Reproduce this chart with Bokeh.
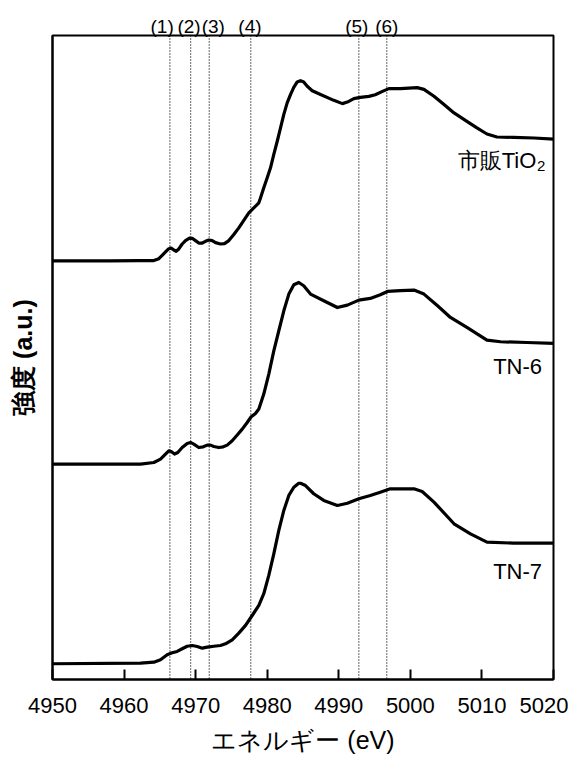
from bokeh.plotting import figure
from bokeh.models import (Range1d, FixedTicker, Span, Label, LinearAxis,
                          CustomJSTickFormatter)
from bokeh.embed import file_html
from bokeh.resources import INLINE

# ---------------- data ----------------
tio2_e = [4950, 4958, 4962, 4964.16, 4964.86, 4965.32, 4965.79, 4966.25, 4966.58, 4966.95,
          4967.28, 4967.65, 4968.12, 4968.58, 4969.14, 4969.52, 4969.98, 4970.44, 4970.92, 4971.38,
          4971.84, 4972.31, 4972.78, 4973.47, 4974.03, 4974.64, 4975.33, 4976.03, 4976.73, 4977.43,
          4978.13, 4978.83, 4979.06, 4979.52, 4980.0, 4980.46, 4980.92, 4981.4, 4981.86, 4982.32,
          4982.79, 4983.25, 4983.71, 4984.19, 4984.65, 4985.1, 4985.59, 4986.29, 4987.45, 4989.3,
          4990.5, 4991.2, 4992.1, 4993.0, 4994.2, 4995.1, 4996.1, 4997.0, 4998.6, 5000.96,
          5001.9, 5003.3, 5004.7, 5006.1, 5007.9, 5009.3, 5010.7, 5012.1, 5014.4, 5017.3, 5020]
tio2_i = [0, 0, 0.002, 0.002, 0.018, 0.045, 0.073, 0.10, 0.105, 0.089,
          0.079, 0.098, 0.139, 0.167, 0.188, 0.186, 0.167, 0.147, 0.147, 0.161,
          0.172, 0.167, 0.150, 0.139, 0.142, 0.167, 0.217, 0.272, 0.335, 0.396,
          0.437, 0.479, 0.520, 0.603, 0.686, 0.769, 0.879, 0.988, 1.098, 1.21,
          1.305, 1.374, 1.434, 1.478, 1.489, 1.478, 1.442, 1.406, 1.374, 1.326,
          1.299, 1.312, 1.340, 1.351, 1.359, 1.373, 1.40, 1.423, 1.423, 1.431,
          1.417, 1.36, 1.291, 1.222, 1.153, 1.098, 1.048, 1.023, 1.02, 1.015, 1.006]

tn6_e = [4950, 4962.3, 4964.16, 4965.09, 4965.79, 4966.25, 4966.58, 4967.05, 4967.51, 4968.12,
         4968.82, 4969.28, 4969.74, 4970.44, 4971.06, 4971.61, 4972.08, 4972.54, 4973.24, 4973.85,
         4974.41, 4975.11, 4975.81, 4976.51, 4977.2, 4977.76, 4978.36, 4978.83, 4979.52, 4980.22,
         4980.92, 4981.62, 4982.32, 4983.02, 4983.72, 4984.41, 4985.1, 4986.05, 4987.9, 4989.8,
         4991.2, 4992.8, 4994.4, 4995.8, 4996.8, 4998.6, 5000.5, 5001.9, 5003.8, 5005.6,
         5007.9, 5010.7, 5012.6, 5016.3, 5020]
tn6_i = [0, 0, 0.013, 0.041, 0.083, 0.11, 0.104, 0.083, 0.096, 0.137,
         0.171, 0.179, 0.165, 0.137, 0.143, 0.157, 0.157, 0.146, 0.137, 0.143,
         0.157, 0.193, 0.24, 0.289, 0.344, 0.391, 0.418, 0.455, 0.579, 0.744,
         0.936, 1.102, 1.267, 1.405, 1.482, 1.501, 1.474, 1.405, 1.35, 1.294,
         1.314, 1.355, 1.369, 1.399, 1.427, 1.433, 1.438, 1.405, 1.308, 1.212,
         1.129, 1.025, 1.011, 1.005, 0.997]

tn7_e = [4950, 4962.3, 4964.16, 4965.09, 4966.02, 4966.72, 4967.42, 4968.12, 4968.82, 4969.52,
         4970.22, 4970.92, 4971.61, 4972.54, 4973.47, 4974.17, 4975.11, 4976.03, 4976.97, 4977.9,
         4978.83, 4979.52, 4980.22, 4980.92, 4981.62, 4982.32, 4983.02, 4983.72, 4984.41, 4984.65,
         4985.35, 4986.5, 4987.9, 4989.8, 4991.2, 4992.8, 4994.4, 4995.8, 4997.2, 5000.5,
         5001.65, 5003.3, 5006.1, 5008.4, 5010.7, 5014.4, 5020]
tn7_i = [0, 0.005, 0.013, 0.033, 0.074, 0.091, 0.102, 0.124, 0.145, 0.151,
         0.143, 0.129, 0.137, 0.145, 0.151, 0.165, 0.198, 0.253, 0.317, 0.399,
         0.482, 0.579, 0.73, 0.909, 1.102, 1.267, 1.391, 1.459, 1.492, 1.492,
         1.473, 1.405, 1.35, 1.308, 1.327, 1.363, 1.391, 1.418, 1.446, 1.446,
         1.424, 1.336, 1.157, 1.074, 1.005, 0.997, 0.997]

offsets = [3.33, 1.65, 0.0]          # vertical offsets of TiO2, TN-6, TN-7
sample_names = ["市販TiO", "TN-6", "TN-7"]

marker_e = [4966.4, 4969.3, 4971.9, 4977.7, 4992.8, 4996.7]
marker_labels = ["(1)", "(2)", "(3)", "(4)", "(5)", "(6)"]

x_ticks = [4950, 4960, 4970, 4980, 4990, 5000, 5010, 5020]

# ---------------- figure ----------------
FONT = "Liberation Sans"
y_start, y_end = -0.13, 5.192

p = figure(width=568, height=759, output_backend="svg", toolbar_location=None,
           x_range=Range1d(4950, 5020), y_range=Range1d(y_start, y_end),
           min_border_left=52, min_border_right=15, min_border_top=35, min_border_bottom=80)
p.background_fill_color = "white"
p.border_fill_color = "white"
p.xgrid.visible = False
p.ygrid.visible = False
p.outline_line_color = "black"
p.outline_line_width = 2

# x axis
p.xaxis.ticker = FixedTicker(ticks=x_ticks)
p.xaxis.minor_tick_line_color = None
p.xaxis.major_tick_in = 10
p.xaxis.major_tick_out = 0
p.xaxis.major_tick_line_width = 2
p.xaxis.major_tick_line_color = "black"
p.xaxis.axis_line_width = 2
p.xaxis.axis_line_color = "black"
p.xaxis.major_label_text_font = FONT
p.xaxis.major_label_text_font_size = "22px"
p.xaxis.major_label_text_color = "black"
p.xaxis.major_label_standoff = 18
p.xaxis.axis_label = "エネルギー (eV)"
p.xaxis.axis_label_text_font = FONT
p.xaxis.axis_label_text_font_size = "25px"
p.xaxis.axis_label_text_font_style = "normal"
p.xaxis.axis_label_text_color = "black"
p.xaxis.axis_label_standoff = 10

# y axis (no ticks)
p.yaxis.ticker = FixedTicker(ticks=[])
p.yaxis.minor_tick_line_color = None
p.yaxis.major_tick_line_color = None
p.yaxis.major_label_standoff = 0
p.yaxis.axis_line_width = 2
p.yaxis.axis_line_color = "black"
p.yaxis.axis_label = "強度 (a.u.)"
p.yaxis.axis_label_text_font = FONT
p.yaxis.axis_label_text_font_size = "25px"
p.yaxis.axis_label_text_font_style = "bold"
p.yaxis.axis_label_text_color = "black"
p.yaxis.axis_label_standoff = 16

# marker labels (1)-(6) above the frame, via a label-only top axis
label_shift = [-1.08, -0.22, 0.56, -0.11, -0.28, 0.0]   # small eV nudges to avoid overlap
top_axis = LinearAxis(
    ticker=FixedTicker(ticks=[e + s for e, s in zip(marker_e, label_shift)]),
    formatter=CustomJSTickFormatter(args=dict(labels=marker_labels),
                                    code="return labels[index]"),
    axis_line_color=None, major_tick_line_color=None, minor_tick_line_color=None,
    major_tick_in=0, major_tick_out=0,
    major_label_standoff=-1, major_label_text_font=FONT,
    major_label_text_font_size="19px", major_label_text_color="black")
p.add_layout(top_axis, "above")

# dotted marker lines
for e in marker_e:
    p.add_layout(Span(location=e, dimension="height", line_color="black",
                      line_width=1.2, line_dash="1 2"))

# spectra
for es, ins, off in zip([tio2_e, tn6_e, tn7_e], [tio2_i, tn6_i, tn7_i], offsets):
    p.line(es, [v + off for v in ins], line_color="black", line_width=3.2,
           line_join="round", line_cap="round")

# sample labels
name_x = 5018.4
p.add_layout(Label(x=5017.6, y=offsets[0] + 0.83, text=sample_names[0],
                   text_align="right", text_baseline="alphabetic",
                   text_font=FONT, text_font_size="22px", text_color="black"))
p.add_layout(Label(x=5017.7, y=offsets[0] + 0.78, text="2",
                   text_align="left", text_baseline="alphabetic",
                   text_font=FONT, text_font_size="15px", text_color="black"))
p.add_layout(Label(x=name_x, y=offsets[1] + 0.805, text=sample_names[1],
                   text_align="right", text_baseline="alphabetic",
                   text_font=FONT, text_font_size="22px", text_color="black"))
p.add_layout(Label(x=name_x, y=offsets[2] + 0.765, text=sample_names[2],
                   text_align="right", text_baseline="alphabetic",
                   text_font=FONT, text_font_size="22px", text_color="black"))

open("out.html", "w").write(file_html(p, INLINE))
